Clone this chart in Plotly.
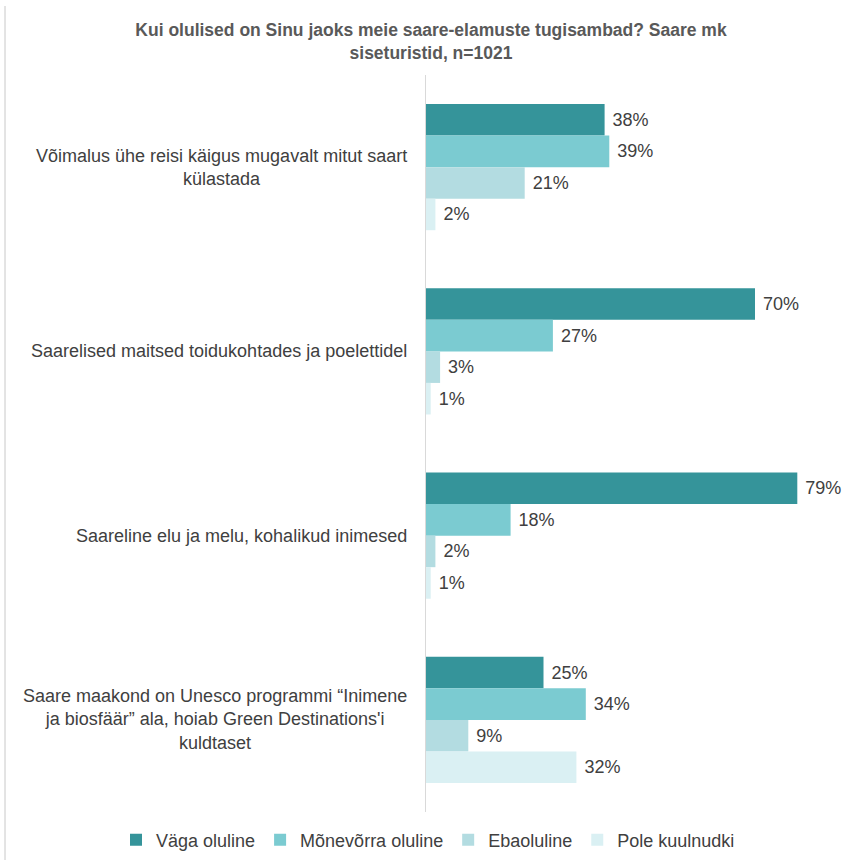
import plotly.graph_objects as go

categories = [
    "Võimalus ühe reisi käigus mugavalt mitut saart<br>külastada",
    "Saarelised maitsed toidukohtades ja poelettidel",
    "Saareline elu ja melu, kohalikud inimesed",
    "Saare maakond on Unesco programmi “Inimene<br>ja biosfäär” ala, hoiab Green Destinations'i<br>kuldtaset",
]
series_names = ["Väga oluline", "Mõnevõrra oluline", "Ebaoluline", "Pole kuulnudki"]
vaga = [38, 70, 79, 25]
monevorra = [39, 27, 18, 34]
ebaoluline = [21, 3, 2, 9]
pole = [2, 1, 1, 32]
colors = ["#35949A", "#7BCBD1", "#B3DCE1", "#DAF0F3"]

W, H = 850, 860
L, R, T, B = 426, 10, 75, 48
plot_w = W - L - R
plot_h = H - T - B
FONT = "Liberation Sans, Arial, sans-serif"

fig = go.Figure()
for name, vals, col in zip(series_names, [vaga, monevorra, ebaoluline, pole], colors):
    fig.add_trace(go.Bar(
        y=categories, x=vals, name=name, orientation="h",
        marker=dict(color=col, line=dict(width=0)),
        text=[f"\u00a0{v}%" for v in vals], textposition="outside",
        textfont=dict(size=18, color="#404040"),
        cliponaxis=False,
    ))

for c in categories:
    fig.add_annotation(
        x=0, xref="paper", y=c, yref="y", xanchor="right", xshift=-17,
        text=c, showarrow=False, align="center",
        font=dict(size=18, color="#404040"),
    )

# faint left frame line
fig.add_shape(type="line", xref="paper", yref="paper",
              x0=(5 - L) / plot_w, x1=(5 - L) / plot_w,
              y0=-B / plot_h, y1=1 + (T - 6) / plot_h,
              line=dict(color="#C8C8C8", width=1))

fig.update_layout(
    width=W, height=H,
    margin=dict(l=L, r=R, t=T, b=B, autoexpand=False),
    paper_bgcolor="white", plot_bgcolor="white",
    font=dict(family=FONT, color="#404040"),
    title=dict(
        text="<b>Kui olulised on Sinu jaoks meie saare-elamuste tugisambad? Saare mk<br>siseturistid, n=1021</b>",
        x=431 / W, xref="container", y=1 - 36 / H, yref="container",
        xanchor="center", yanchor="middle",
        font=dict(size=17.5, color="#595959", family=FONT),
    ),
    barmode="group", bargap=0.315, bargroupgap=0,
    xaxis=dict(range=[0, plot_w / 4.70], visible=False, fixedrange=True),
    yaxis=dict(autorange="reversed", showticklabels=False, showline=True,
               linecolor="#D9D9D9", linewidth=1, ticks="", showgrid=False,
               zeroline=False, fixedrange=True),
    legend=dict(
        orientation="h", x=(116 - L) / plot_w, xref="paper", xanchor="left",
        y=-(840 - (T + plot_h)) / plot_h, yref="paper", yanchor="middle",
        font=dict(size=18, color="#404040"), traceorder="normal",
        itemwidth=30,
    ),
    showlegend=True,
)

fig.write_html("out.html", post_script="document.body.style.margin='0';",
               config={"displayModeBar": False})
